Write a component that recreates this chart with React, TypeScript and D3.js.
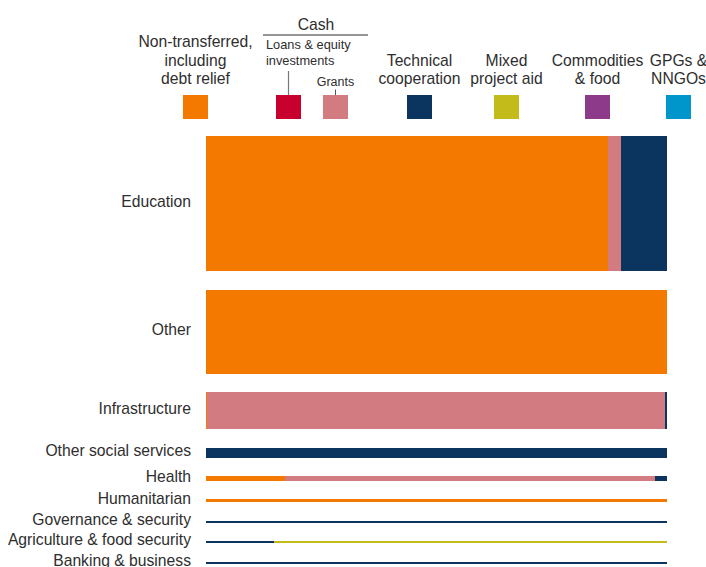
import React from "react";
import * as d3 from "d3";

// sectors, top to bottom
const sectors = [
  "Education",
  "Other",
  "Infrastructure",
  "Other social services",
  "Health",
  "Humanitarian",
  "Governance & security",
  "Agriculture & food security",
  "Banking & business",
];

// relative size of each sector (sets the bar thickness)
const totals = [135, 84, 37, 10, 5, 3, 2, 2, 2];

// share of each sector by modality
const nonTransferred = [0.872, 1, 0.003, 0, 0.172, 1, 0, 0, 0];
const loansEquity = [0, 0, 0, 0, 0, 0, 0, 0, 0];
const grants = [0.028, 0, 0.993, 0, 0.801, 0, 0, 0, 0];
const technical = [0.1, 0, 0.004, 1, 0.027, 0, 1, 0.148, 1];
const mixedProject = [0, 0, 0, 0, 0, 0, 0, 0.852, 0];
const commodities = [0, 0, 0, 0, 0, 0, 0, 0, 0];
const gpgs = [0, 0, 0, 0, 0, 0, 0, 0, 0];

const keys = ["nonTransferred", "loans", "grants", "technical", "mixed", "commodities", "gpgs"];
const colors = ["#f47900", "#c8002d", "#d27b80", "#0b355e", "#c3bb1a", "#8e3a8a", "#0096cc"];

const WIDTH = 706;
const HEIGHT = 567;
const FONT = "'Liberation Sans', Arial, sans-serif";
const TEXT = "#2e2e2e";

const App: React.FC = () => {
  const rows = sectors.map((s, i) => ({
    sector: s,
    nonTransferred: nonTransferred[i],
    loans: loansEquity[i],
    grants: grants[i],
    technical: technical[i],
    mixed: mixedProject[i],
    commodities: commodities[i],
    gpgs: gpgs[i],
  }));
  const stacked = d3.stack<any>().keys(keys)(rows);

  const x = d3.scaleLinear().domain([0, 1]).range([206, 667]);
  const h = d3.scaleLinear().domain([0, d3.sum(totals)]).range([0, 280.4]);
  const gap = 18.4;
  const top = 136;

  // bar tops: cumulative heights plus constant gaps
  const tops: number[] = [];
  let acc = top;
  totals.forEach((t) => {
    tops.push(acc);
    acc += h(t) + gap;
  });

  // legend swatch centres
  const legendX = [195.5, 288.5, 335.5, 419.5, 506.5, 597.5, 678.5];
  const sw = 25;
  const swTop = 95;

  const legendLabels: (string[] | null)[] = [
    ["Non-transferred,", "including", "debt relief"],
    null,
    null,
    ["Technical", "cooperation"],
    ["Mixed", "project aid"],
    ["Commodities", "& food"],
    ["GPGs &", "NNGOs"],
  ];
  const lineH = 18.5;
  const lastBaseline = 84;

  return (
    <svg
      width={WIDTH}
      height={HEIGHT}
      style={{ position: "absolute", left: 0, top: 0, background: "#fff" }}
      fontFamily={FONT}
    >
      {/* bars */}
      {stacked.map((layer, k) => (
        <g key={keys[k]} fill={colors[k]}>
          {layer.map((d, i) => {
            const w = x(d[1]) - x(d[0]);
            if (w <= 0) return null;
            return (
              <rect
                key={i}
                x={x(d[0])}
                y={tops[i]}
                width={w}
                height={h(totals[i])}
                shapeRendering="crispEdges"
              />
            );
          })}
        </g>
      ))}

      {/* sector labels */}
      {sectors.map((s, i) => (
        <text
          key={s}
          x={191}
          y={tops[i] + h(totals[i]) / 2 + 3.3}
          textAnchor="end"
          fontSize={15.7}
          fill={TEXT}
        >
          {s}
        </text>
      ))}

      {/* legend swatches */}
      {legendX.map((cx, k) => (
        <rect key={keys[k]} x={cx - sw / 2} y={swTop} width={sw} height={24} fill={colors[k]} />
      ))}

      {/* legend labels */}
      {legendLabels.map((lines, k) =>
        lines ? (
          <text key={k} textAnchor="middle" fontSize={15.7} fill={TEXT}>
            {lines.map((l, j) => (
              <tspan key={j} x={legendX[k]} y={lastBaseline - (lines.length - 1 - j) * lineH}>
                {l}
              </tspan>
            ))}
          </text>
        ) : null
      )}

      {/* cash group */}
      <text x={316} y={29.5} textAnchor="middle" fontSize={15.7} fill={TEXT}>
        Cash
      </text>
      <line x1={263} x2={368} y1={35} y2={35} stroke={TEXT} strokeWidth={1.2} />
      <text fontSize={12.8} fill={TEXT}>
        <tspan x={266} y={49}>Loans &amp; equity</tspan>
        <tspan x={266} y={65}>investments</tspan>
      </text>
      <line x1={legendX[1]} x2={legendX[1]} y1={71} y2={swTop} stroke="#777" strokeWidth={1.2} />
      <text x={legendX[2]} y={86} textAnchor="middle" fontSize={12.5} fill={TEXT}>
        Grants
      </text>
      <line x1={legendX[2]} x2={legendX[2]} y1={89.5} y2={swTop} stroke="#555" strokeWidth={1} />
    </svg>
  );
};

export default App;
